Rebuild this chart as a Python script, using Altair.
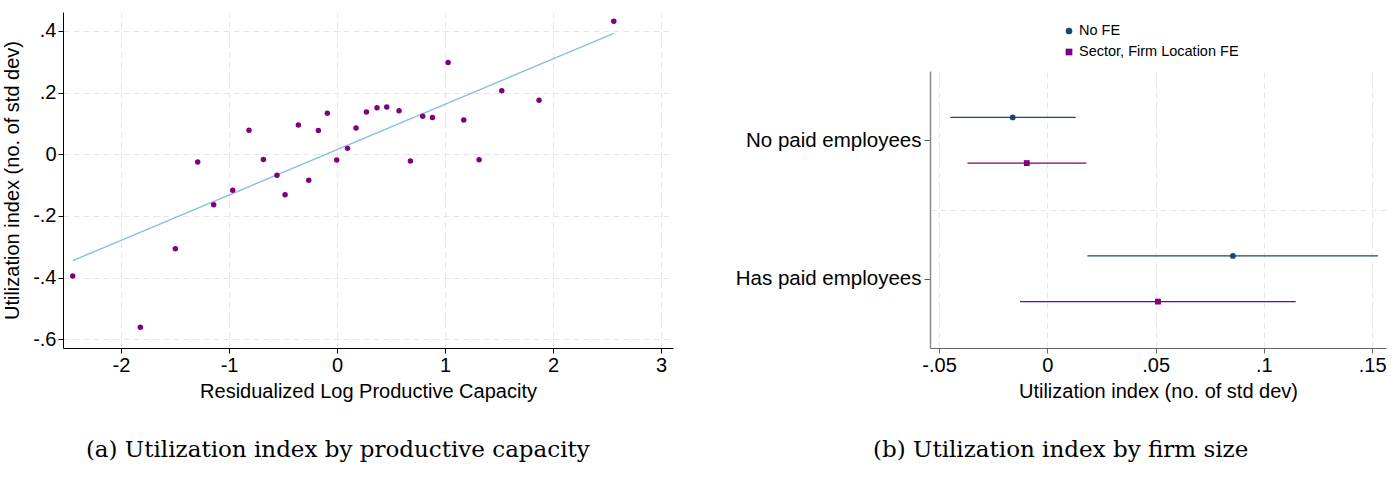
import altair as alt
import pandas as pd

# ---------------- Panel (a): binned scatter ----------------
bin_x = [-2.447, -1.821, -1.497, -1.290, -1.142, -0.966, -0.815, -0.682, -0.556, -0.481,
         -0.358, -0.262, -0.173, -0.090, -0.003, 0.097, 0.176, 0.272, 0.370, 0.460,
         0.574, 0.679, 0.793, 0.883, 1.028, 1.173, 1.315, 1.525, 1.870, 2.562]
bin_y = [-0.395, -0.561, -0.306, -0.025, -0.164, -0.117, 0.078, -0.017, -0.068, -0.131,
         0.095, -0.084, 0.077, 0.133, -0.019, 0.019, 0.085, 0.137, 0.151, 0.153,
         0.141, -0.022, 0.123, 0.119, 0.297, 0.111, -0.018, 0.206, 0.175, 0.431]
fit_x = [-2.447, 2.562]
fit_y = [-0.345, 0.392]

# ---------------- Panel (b): coefficient plot ----------------
groups = ["No paid employees", "Has paid employees"]
series = ["No FE", "Sector, Firm Location FE"]
row_group = ["No paid employees", "No paid employees", "Has paid employees", "Has paid employees"]
row_series = ["No FE", "Sector, Firm Location FE", "No FE", "Sector, Firm Location FE"]
coef = [-0.0160, -0.0095, 0.0857, 0.0511]
ci_lo = [-0.0448, -0.0369, 0.0185, -0.0126]
ci_hi = [0.0131, 0.0180, 0.1527, 0.1147]

BLUE = "#1a476f"
PURPLE = "#800080"
LINE = "#85bfe9"
GRID = "#e6e6e6"
SANS = "Liberation Sans"
SERIF = "DejaVu Serif"

scatter_df = pd.DataFrame({"x": bin_x, "y": bin_y})
fit_df = pd.DataFrame({"x": fit_x, "y": fit_y})

coef_df = pd.DataFrame({
    "group": row_group, "series": row_series,
    "coef": coef, "lo": ci_lo, "hi": ci_hi,
})
coef_df["gpos"] = [groups.index(g) + 1 for g in coef_df["group"]]
coef_df["spos"] = [series.index(s) for s in coef_df["series"]]
legend_df = pd.DataFrame({"series": series})

def lead_zero_expr(fmt):
    return ("datum.value == 0 ? '0' : (datum.value < 0 ? '-' : '') + "
            f"replace(format(abs(datum.value), '{fmt}'), '0.', '.')")

xa = alt.X("x:Q", scale=alt.Scale(domain=[-2.537, 3.11], nice=False, zero=False),
           axis=alt.Axis(values=[-2, -1, 0, 1, 2, 3], title="Residualized Log Productive Capacity",
                         labelExpr=lead_zero_expr(".1~f"), titlePadding=6))
ya = alt.Y("y:Q", scale=alt.Scale(domain=[-0.628, 0.461], nice=False, zero=False),
           axis=alt.Axis(values=[-0.6, -0.4, -0.2, 0, 0.2, 0.4], title="Utilization index (no. of std dev)",
                         labelExpr=lead_zero_expr(".1f"), titlePadding=10))

fit_line = alt.Chart(fit_df).mark_line(color=LINE, strokeWidth=1.4).encode(x=xa, y=ya)
pts = alt.Chart(scatter_df).mark_circle(color=PURPLE, size=30, opacity=1).encode(x=xa, y=ya)

panel_a = alt.layer(fit_line, pts).properties(
    width=610, height=336,
    title=alt.TitleParams("(a) Utilization index by productive capacity", orient="bottom",
                          anchor="middle", frame="bounds", font=SERIF, fontSize=23,
                          fontWeight="normal", color="black", offset=38),
)

# panel b
y_label_expr = " : ".join(f"datum.value == {i+1} ? '{g}'" for i, g in enumerate(groups)) + " : ''"

yb = alt.Y("ypos:Q", scale=alt.Scale(domain=[0.5, 2.5], nice=False, zero=False, reverse=True),
           axis=alt.Axis(values=[1, 1.5, 2], title=None, labelExpr=y_label_expr,
                         tickOpacity={"condition": {"test": "datum.value == 1.5", "value": 0}, "value": 1},
                         gridOpacity={"condition": {"test": "datum.value != 1.5", "value": 0}, "value": 1},
                         domainColor="#8a8a8a", domainWidth=1.5, tickColor="#555555", tickSize=6,
                         labelPadding=3, labelLimit=400, labelFontSize=20.5))
xscale_b = alt.Scale(domain=[-0.0542, 0.1564], nice=False, zero=False)
xb = alt.X("coef:Q", scale=xscale_b,
           axis=alt.Axis(values=[-0.05, 0, 0.05, 0.1, 0.15], title="Utilization index (no. of std dev)",
                         labelExpr=lead_zero_expr(".2~f"), domainColor="#666666", tickColor="#666666",
                         titlePadding=6))

color_scale = alt.Scale(domain=series, range=[BLUE, PURPLE])
shape_scale = alt.Scale(domain=series, range=["circle", "square"])

base_b = alt.Chart(coef_df).transform_calculate(
    ypos="datum.gpos + (datum.spos - 0.5) * 0.33"
)
ci = base_b.mark_rule(strokeWidth=1.3).encode(
    y=yb, x=alt.X("lo:Q", scale=xscale_b), x2="hi:Q",
    color=alt.Color("series:N", scale=color_scale, legend=None),
)
est = base_b.mark_point(filled=True, opacity=1, size=34).encode(
    y=yb, x=xb,
    color=alt.Color("series:N", scale=color_scale, legend=None),
    shape=alt.Shape("series:N", scale=shape_scale, legend=None),
)

panel_b = alt.layer(ci, est).properties(
    width=456, height=277,
    title=alt.TitleParams("(b) Utilization index by firm size", orient="bottom",
                          anchor="middle", frame="bounds", font=SERIF, fontSize=23,
                          fontWeight="normal", color="black", offset=38),
)

# legend drawn above panel (b)
ly = alt.Y("series:N", scale=alt.Scale(type="point", domain=series, range=[19, 40], padding=0),
           axis=None)
leg_pts = alt.Chart(legend_df).mark_point(filled=True, opacity=1, size=45).encode(
    x=alt.value(139), y=ly,
    color=alt.Color("series:N", scale=color_scale, legend=None),
    shape=alt.Shape("series:N", scale=shape_scale, legend=None),
)
leg_txt = alt.Chart(legend_df).mark_text(
    align="left", baseline="middle", dx=10, font=SANS, fontSize=14.5, color="black"
).encode(x=alt.value(139), y=ly, text="series:N")
legend_chart = alt.layer(leg_pts, leg_txt).properties(width=456, height=59)

right = alt.vconcat(legend_chart, panel_b, spacing=0)

chart = alt.hconcat(panel_a, right, spacing=62).properties(
    padding={"left": 2, "top": 12, "right": 0, "bottom": 0},
    background="white",
).configure_axis(
    labelFont=SANS, titleFont=SANS, labelFontSize=20, titleFontSize=20,
    labelColor="black", titleColor="black", titleFontWeight="normal",
    gridColor=GRID, gridDash=[6, 4], gridWidth=1,
    domainColor="black", tickColor="black", tickSize=5,
).configure_view(stroke=None)

chart.save("out.html", embed_options={"renderer": "svg", "actions": False})
